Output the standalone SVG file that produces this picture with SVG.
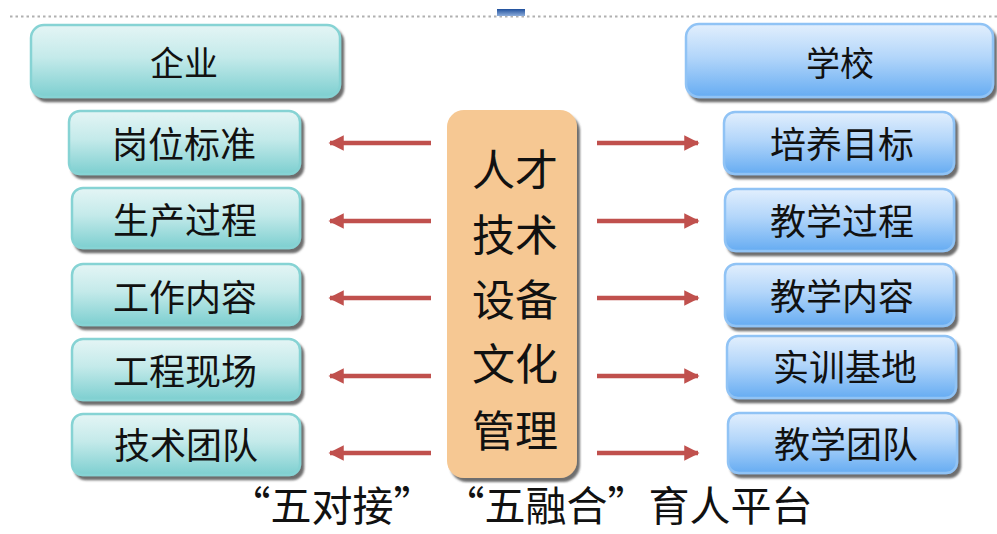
<svg xmlns="http://www.w3.org/2000/svg" width="997" height="534" viewBox="0 0 997 534">
<style>
text{font-family:"Noto Sans CJK SC","Noto Sans",sans-serif;fill:#111;text-anchor:middle;dominant-baseline:central}
.t{fill:url(#teal);stroke:#86d3d4;stroke-width:2.5;filter:url(#sh)}
.b{fill:url(#blue);stroke:#90c3f5;stroke-width:2.5;filter:url(#sh)}
.lbl{font-size:36px}
.hd{font-size:34px}
.ctr{font-size:43px}
.arr{stroke:#c0504d;stroke-width:4.5;fill:none}
.title{font-size:41px;dominant-baseline:alphabetic}
</style>
<defs>
<linearGradient id="teal" x1="0" y1="0" x2="0" y2="1">
<stop offset="0" stop-color="#e4f5f5"/>
<stop offset="0.45" stop-color="#c4eaea"/>
<stop offset="1" stop-color="#7dcfd0"/>
</linearGradient>
<linearGradient id="blue" x1="0" y1="0" x2="0" y2="1">
<stop offset="0" stop-color="#e2effd"/>
<stop offset="0.45" stop-color="#b3d6fa"/>
<stop offset="1" stop-color="#66acf2"/>
</linearGradient>
<linearGradient id="mark" x1="0" y1="0" x2="0" y2="1">
<stop offset="0" stop-color="#1f4f9c"/>
<stop offset="1" stop-color="#8eaedb"/>
</linearGradient>
<filter id="sh" x="-10%" y="-10%" width="125%" height="135%">
<feDropShadow dx="3" dy="4" stdDeviation="1.2" flood-color="#4a4a4a" flood-opacity="0.8"/>
</filter>
<marker id="ah" viewBox="0 0 10 10" refX="9" refY="5" markerWidth="3.4" markerHeight="3.4" orient="auto" markerUnits="strokeWidth">
<path d="M0,0 L10,5 L0,10 Z" fill="#c0504d"/>
</marker>
</defs>
<rect width="997" height="534" fill="#ffffff"/>
<line x1="10" y1="16.5" x2="997" y2="16.5" stroke="#b0b0b0" stroke-width="2" stroke-dasharray="2.5 3"/>
<rect x="497" y="9" width="28" height="7" fill="url(#mark)"/>

<g id="enterprise">
<rect class="t" x="31" y="25" width="309" height="72" rx="13"/>
<text class="hd" x="184" y="61">企业</text>
</g>
<g id="school">
<rect class="b" x="686" y="24" width="307" height="73" rx="13"/>
<text class="hd" x="840" y="61">学校</text>
</g>

<g id="e1"><rect class="t" x="69" y="111" width="231" height="63" rx="11"/><text class="lbl" x="184" y="142">岗位标准</text></g>
<g id="e2"><rect class="t" x="72" y="188" width="228" height="60" rx="11"/><text class="lbl" x="185" y="218">生产过程</text></g>
<g id="e3"><rect class="t" x="72" y="264" width="228" height="61" rx="11"/><text class="lbl" x="185" y="295">工作内容</text></g>
<g id="e4"><rect class="t" x="72" y="339" width="228" height="61" rx="11"/><text class="lbl" x="185" y="369">工程现场</text></g>
<g id="e5"><rect class="t" x="72" y="414" width="228" height="61" rx="11"/><text class="lbl" x="186" y="443">技术团队</text></g>

<g id="s1"><rect class="b" x="724" y="112" width="230" height="62" rx="11"/><text class="lbl" x="842" y="142">培养目标</text></g>
<g id="s2"><rect class="b" x="725" y="189" width="229" height="62" rx="11"/><text class="lbl" x="842" y="219">教学过程</text></g>
<g id="s3"><rect class="b" x="725" y="264" width="229" height="62" rx="11"/><text class="lbl" x="842" y="294">教学内容</text></g>
<g id="s4"><rect class="b" x="727" y="336" width="229" height="62" rx="11"/><text class="lbl" x="845" y="365">实训基地</text></g>
<g id="s5"><rect class="b" x="728" y="413" width="229" height="60" rx="11"/><text class="lbl" x="846" y="442">教学团队</text></g>

<g id="center">
<rect x="447" y="110" width="130" height="368" rx="17" fill="#f6c893" filter="url(#sh)"/>
<text class="ctr" x="515" y="167">人才</text>
<text class="ctr" x="515" y="232">技术</text>
<text class="ctr" x="515" y="297">设备</text>
<text class="ctr" x="515" y="361">文化</text>
<text class="ctr" x="515" y="428">管理</text>
</g>

<g id="connectors">
<line class="arr" x1="431" y1="143" x2="330" y2="143" marker-end="url(#ah)"/>
<line class="arr" x1="431" y1="221" x2="330" y2="221" marker-end="url(#ah)"/>
<line class="arr" x1="431" y1="298" x2="330" y2="298" marker-end="url(#ah)"/>
<line class="arr" x1="431" y1="376" x2="330" y2="376" marker-end="url(#ah)"/>
<line class="arr" x1="431" y1="453" x2="330" y2="453" marker-end="url(#ah)"/>
<line class="arr" x1="597" y1="143" x2="698" y2="143" marker-end="url(#ah)"/>
<line class="arr" x1="597" y1="221" x2="698" y2="221" marker-end="url(#ah)"/>
<line class="arr" x1="597" y1="298" x2="698" y2="298" marker-end="url(#ah)"/>
<line class="arr" x1="597" y1="376" x2="698" y2="376" marker-end="url(#ah)"/>
<line class="arr" x1="597" y1="453" x2="698" y2="453" marker-end="url(#ah)"/>
</g>

<text class="title" x="521" y="521">“五对接” “五融合”育人平台</text>
</svg>
